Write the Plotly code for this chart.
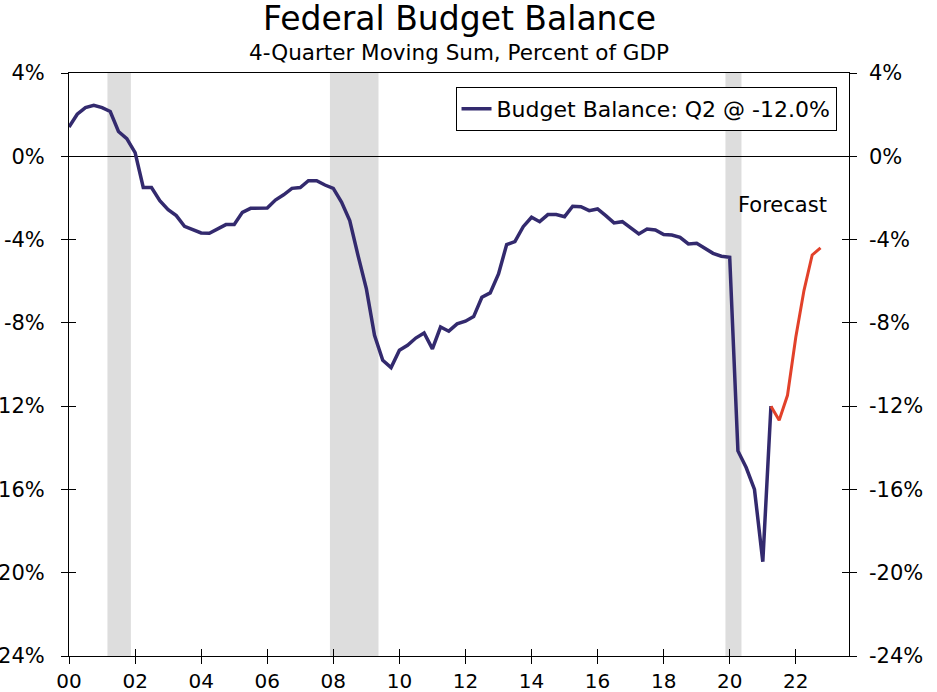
import pandas as pd
import plotly.graph_objects as go

# 4-quarter moving sum, percent of GDP
actual_start = "2000Q1"
actual_values = [
    1.41, 2.02, 2.34, 2.45,
    2.34, 2.15, 1.19, 0.85,
    0.18, -1.50, -1.50, -2.13,
    -2.56, -2.85, -3.36, -3.52,
    -3.68, -3.70, -3.49, -3.28,
    -3.28, -2.69, -2.50, -2.48,
    -2.48, -2.10, -1.85, -1.54,
    -1.50, -1.17, -1.17, -1.38,
    -1.54, -2.20, -3.09, -4.77,
    -6.37, -8.60, -9.80, -10.15,
    -9.32, -9.08, -8.73, -8.49,
    -9.25, -8.20, -8.40, -8.05,
    -7.92, -7.70, -6.77, -6.56,
    -5.65, -4.24, -4.10, -3.38,
    -2.93, -3.14, -2.80, -2.80,
    -2.90, -2.40, -2.42, -2.61,
    -2.53, -2.85, -3.20, -3.14,
    -3.44, -3.73, -3.49, -3.54,
    -3.76, -3.78, -3.89, -4.21,
    -4.18, -4.40, -4.66, -4.80,
    -4.85, -14.15, -14.95, -16.00,
    -19.47, -12.00,
]
forecast_start = "2021Q2"
forecast_values = [-12.00, -12.68, -11.48, -8.68, -6.45, -4.74, -4.40]

recession_start = ["2001-03-01", "2007-11-25", "2019-11-15"]
recession_end = ["2001-11-15", "2009-05-15", "2020-05-10"]

x_ticks = ["2000-01-01", "2002-01-01", "2004-01-01", "2006-01-01", "2008-01-01",
           "2010-01-01", "2012-01-01", "2014-01-01", "2016-01-01", "2018-01-01",
           "2020-01-01", "2022-01-01"]
x_tick_labels = ["00", "02", "04", "06", "08", "10", "12", "14", "16", "18", "20", "22"]
x_range = ["2000-01-01", "2023-08-12"]

y_ticks = [4, 0, -4, -8, -12, -16, -20, -24]
y_tick_labels = ["4%", "0%", "-4%", "-8%", "-12%", "-16%", "-20%", "-24%"]
y_range = [-24, 4]

legend_label = "Budget Balance: Q2 @ -12.0%"
title_text = "Federal Budget Balance"
subtitle_text = "4-Quarter Moving Sum, Percent of GDP"
forecast_text = "Forecast"

NAVY = "#332a6e"
RED = "#e2412a"
GRAY = "#dddddd"
FONT = "DejaVu Sans"

actual_dates = pd.period_range(actual_start, periods=len(actual_values), freq="Q").to_timestamp()
forecast_dates = pd.period_range(forecast_start, periods=len(forecast_values), freq="Q").to_timestamp()

fig = go.Figure()
fig.add_trace(go.Scatter(x=actual_dates, y=actual_values, mode="lines", name=legend_label,
                         line=dict(color=NAVY, width=3.5)))
# forecast sits on the twin axes (same ranges) so they get drawn
fig.add_trace(go.Scatter(x=forecast_dates, y=forecast_values, mode="lines", showlegend=False,
                         xaxis="x2", yaxis="y2", line=dict(color=RED, width=3)))

for s, e in zip(recession_start, recession_end):
    fig.add_vrect(x0=s, x1=e, fillcolor=GRAY, opacity=1, line_width=0, layer="below")

tick_font = dict(family=FONT, size=21, color="black")
common_x = dict(type="date", range=x_range, tickmode="array", tickvals=x_ticks,
                ticklen=7, tickwidth=1, tickcolor="black", showgrid=False, zeroline=False,
                automargin=False)
common_y = dict(range=y_range, tickmode="array", tickvals=y_ticks, ticktext=y_tick_labels,
                ticklen=7, tickwidth=1, tickcolor="black", showgrid=False, automargin=False)

fig.update_layout(
    width=937, height=692,
    margin=dict(l=69, r=88, t=73, b=36),
    plot_bgcolor="white", paper_bgcolor="white",
    font=dict(family=FONT, color="black"),
    xaxis=dict(**common_x, ticktext=x_tick_labels, ticks="outside",
               tickfont=dict(family=FONT, size=20, color="black"),
               ticklabelstandoff=0, showline=True, linecolor="black", linewidth=1, mirror=True),
    xaxis2=dict(**common_x, overlaying="x", anchor="y2", side="bottom", ticks="inside",
                showticklabels=False, showline=False),
    yaxis=dict(**common_y, ticks="outside", tickfont=tick_font, ticklabelstandoff=12,
               showline=True, linecolor="black", linewidth=1, mirror="ticks",
               zeroline=True, zerolinecolor="black", zerolinewidth=1),
    yaxis2=dict(**common_y, overlaying="y", anchor="x2", side="right", ticks="inside",
                tickfont=tick_font, ticklabelstandoff=19, showline=False, mirror="ticks",
                zeroline=False),
    legend=dict(x=0.984, xanchor="right", y=0.976, yanchor="top",
                bordercolor="black", borderwidth=1, bgcolor="white",
                font=dict(family=FONT, size=22, color="black")),
    showlegend=True,
)

fig.add_annotation(text=title_text, xref="paper", yref="paper", x=0.5, y=1.094,
                   xanchor="center", yanchor="middle", showarrow=False,
                   font=dict(family=FONT, size=33, color="black"))
fig.add_annotation(text=subtitle_text, xref="paper", yref="paper", x=0.5, y=1.036,
                   xanchor="center", yanchor="middle", showarrow=False,
                   font=dict(family=FONT, size=21.5, color="black"))
fig.add_annotation(text=forecast_text, xref="x", yref="y", x="2021-08-05", y=-2.35,
                   xanchor="center", yanchor="middle", showarrow=False,
                   font=dict(family=FONT, size=21, color="black"))

fig.write_html("out.html", config={"displayModeBar": False},
               post_script="document.body.style.margin='0';")
